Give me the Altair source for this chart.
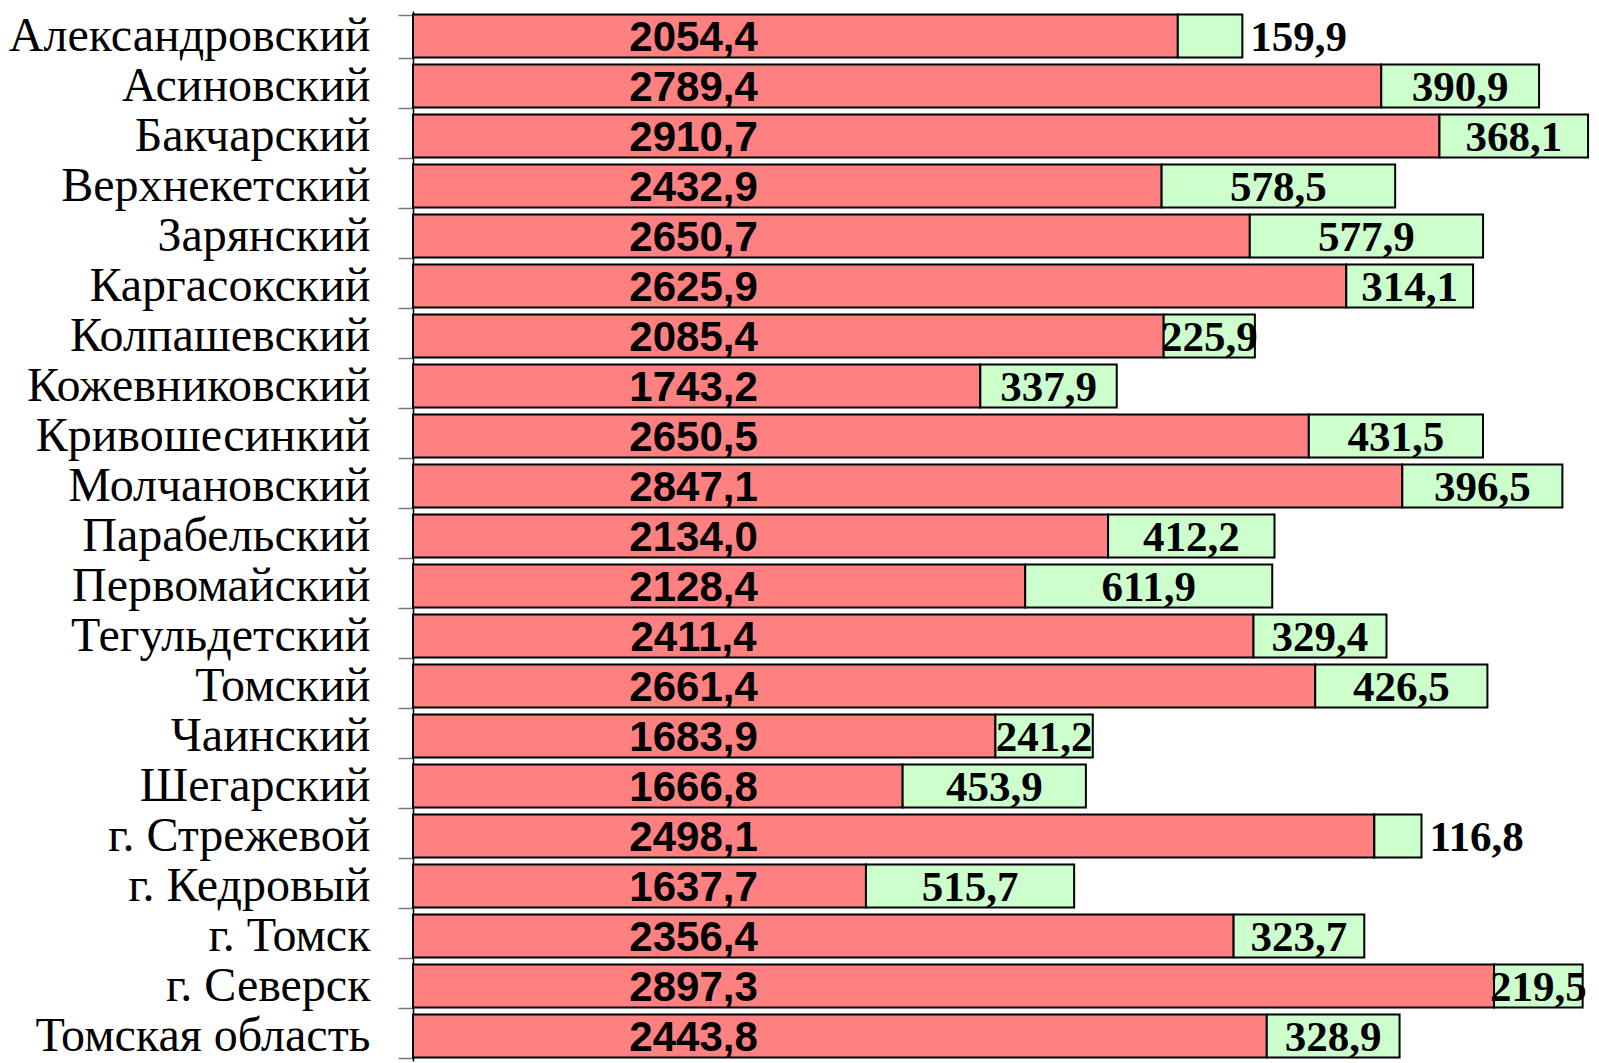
import altair as alt
import pandas as pd

districts = [
    "Александровский", "Асиновский", "Бакчарский", "Верхнекетский", "Зарянский",
    "Каргасокский", "Колпашевский", "Кожевниковский", "Кривошесинкий", "Молчановский",
    "Парабельский", "Первомайский", "Тегульдетский", "Томский", "Чаинский",
    "Шегарский", "г. Стрежевой", "г. Кедровый", "г. Томск", "г. Северск",
    "Томская область",
]
totals = [2054.4, 2789.4, 2910.7, 2432.9, 2650.7, 2625.9, 2085.4, 1743.2, 2650.5, 2847.1,
          2134.0, 2128.4, 2411.4, 2661.4, 1683.9, 1666.8, 2498.1, 1637.7, 2356.4, 2897.3,
          2443.8]
greens = [159.9, 390.9, 368.1, 578.5, 577.9, 314.1, 225.9, 337.9, 431.5, 396.5,
          412.2, 611.9, 329.4, 426.5, 241.2, 453.9, 116.8, 515.7, 323.7, 219.5,
          328.9]

df = pd.DataFrame({"district": districts, "total": totals, "green": greens})

base = alt.Chart(df).transform_calculate(
    red_end="datum.total - datum.green",
    green_mid="datum.total - datum.green / 2",
    total_lbl="replace(format(datum.total, '.1f'), '.', ',')",
    green_lbl="replace(format(datum.green, '.1f'), '.', ',')",
)

xs = alt.Scale(domain=[0, 2918], nice=False, zero=True)
y = alt.Y(
    "district:N", sort=None, title=None,
    scale=alt.Scale(paddingInner=0.14, paddingOuter=0.07),
    axis=alt.Axis(
        labelFont="Liberation Serif", labelFontSize=48, labelColor="black",
        labelPadding=28, labelLimit=600, tickSize=15, tickColor="#777777",
        tickWidth=1.5, domainColor="black", domainWidth=1.5, tickBand="extent",
    ),
)

red = base.mark_bar(color="#FF8080", stroke="black", strokeWidth=2).encode(
    x=alt.X("red_end:Q", scale=xs, axis=None), y=y
)
green = base.mark_bar(color="#CCFFCC", stroke="black", strokeWidth=2).encode(
    x=alt.X("red_end:Q", scale=xs, axis=None), x2="total:Q", y=y
)
red_txt = base.mark_text(
    font="Liberation Sans", fontWeight="bold", fontSize=42, color="black", align="center",
    baseline="middle", dy=2,
).encode(x=alt.datum(695, scale=xs), y=y, text="total_lbl:N")
green_in = base.transform_filter("datum.green >= 200").mark_text(
    font="Liberation Serif", fontWeight="bold", fontSize=43, color="black", align="center",
    baseline="middle", dy=2,
).encode(x=alt.X("green_mid:Q", scale=xs), y=y, text="green_lbl:N")
green_out = base.transform_filter("datum.green < 200").mark_text(
    font="Liberation Serif", fontWeight="bold", fontSize=43, color="black", align="left",
    baseline="middle", dx=8, dy=2,
).encode(x=alt.X("total:Q", scale=xs), y=y, text="green_lbl:N")

chart = alt.layer(red, green, red_txt, green_in, green_out).properties(
    width=1178, height=1050,
    autosize=alt.AutoSizeParams(type="none"),
    padding={"left": 405, "top": 3, "right": 0, "bottom": 2},
).configure_view(strokeWidth=0)

chart.save("out.html", embed_options={"renderer": "svg", "actions": False})
